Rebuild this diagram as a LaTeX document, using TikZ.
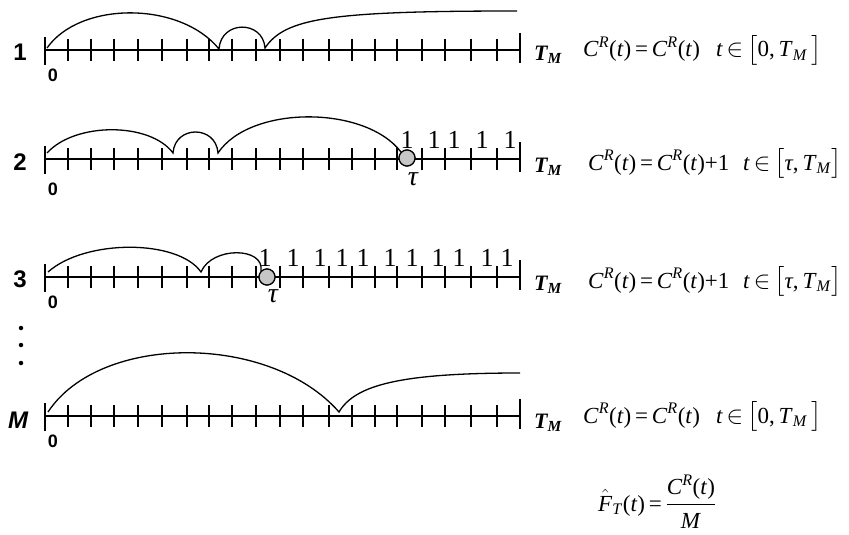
\documentclass[tikz,border=0pt]{standalone}
\usepackage{exscale}
\usepackage{fontspec}
\setmainfont{Liberation Serif}
\setsansfont{Liberation Sans}
\newcommand\CRt{\textit{C}\textsuperscript{\textit{R}}(\textit{t})}
\newcommand\TMsub{\textit{T}\textsubscript{\textit{M}}}
\newcommand\timeaxis[2]{%
  \coordinate (#1s) at (45,#2);
  \coordinate (#1e) at (520,#2);
  \draw[axisln] (#1s) -- (#1e);
  \draw[tickln] (45,{#2-13}) -- (45,{#2+15});
  \draw[tickln] (520,{#2-17}) -- (520,{#2+13});
  \foreach \tx in {68,91,114,138,162,187,209,232,256,280,303,329,352,375,397,422,445,471,497}
    {\draw[tickln] (\tx,{#2-11}) -- (\tx,{#2+11});}
}
\begin{document}
\begin{tikzpicture}[x=1pt,y=-1pt,
  axisln/.style={line width=1.7pt},
  tickln/.style={line width=1.6pt},
  curveln/.style={line width=1.3pt},
  rowlab/.style={font=\fontsize{24}{26}\selectfont\sffamily\bfseries, inner sep=0pt},
  zerolab/.style={font=\fontsize{18}{20}\selectfont\sffamily\bfseries, inner sep=0pt},
  tmlab/.style={font=\fontsize{22}{24}\selectfont\bfseries\itshape, anchor=base west, inner sep=0pt},
  formula/.style={font=\fontsize{23}{26}\selectfont, anchor=base west, inner sep=0pt},
  onelab/.style={font=\fontsize{26}{28}\selectfont, anchor=south, inner sep=0pt},
  taulab/.style={font=\fontsize{28}{30}\selectfont\itshape, inner sep=0pt},
  eventdot/.style={circle, draw, line width=1.2pt, fill=gray!45, minimum size=16pt, inner sep=0pt},
  vdot/.style={circle, fill=black, minimum size=4.5pt, inner sep=0pt}]
\useasboundingbox (0,0) rectangle (849,535);

% ---------- row 1 ----------
\timeaxis{a}{50}
\node[rowlab] (r1) at (20,52) {1};
\node[zerolab] (z1) at (53,75) {0};
\node[tmlab] (tm1) at (534,60) {\TMsub};
\node[formula] (f1) at (583,57) {\CRt\,=\,\CRt\hspace{0.7em}\textit{t}\,$\in$\,$\big[$0,\,\TMsub$\,\big]$};
\coordinate (a1) at (47,48);
\coordinate (a2) at (219,49);
\coordinate (a3) at (265,48);
\coordinate (a4) at (517,11);
\draw[curveln] (a1) .. controls (80,1) and (180,1) .. (a2)
  .. controls (221,20) and (263,20) .. (a3)
  .. controls (285,18) and (330,11) .. (a4);

% ---------- row 2 ----------
\timeaxis{b}{159}
\node[rowlab] (r2) at (20,162) {2};
\node[zerolab] (z2) at (53,189) {0};
\node[tmlab] (tm2) at (534,172) {\TMsub};
\node[formula] (f2) at (588,170) {\CRt\,=\,\CRt+1\hspace{0.6em}\textit{t}\,$\in$\,$\big[$\textit{τ},\,\TMsub$\big]$};
\coordinate (b1) at (47,153);
\coordinate (b2) at (173,153);
\coordinate (b3) at (218,153);
\node[eventdot] (tau2) at (407,158) {};
\draw[curveln] (b1) .. controls (75,122) and (150,122) .. (b2)
  .. controls (175,125) and (216,125) .. (b3)
  .. controls (250,105) and (365,105) .. (tau2.north west);
\node[eventdot] at (tau2) {};
\node[taulab] (t2) at (413,179) {τ};
\foreach \ox in {407,434,454,482,510}
  {\node[onelab] at (\ox,149) {1};}

% ---------- row 3 ----------
\timeaxis{c}{277}
\node[rowlab] (r3) at (20,279) {3};
\node[zerolab] (z3) at (53,302) {0};
\node[tmlab] (tm3) at (534,290) {\TMsub};
\node[formula] (f3) at (588,288) {\CRt\,=\,\CRt+1\hspace{0.6em}\textit{t}\,$\in$\,$\big[$\textit{τ},\,\TMsub$\big]$};
\coordinate (c1) at (48,272);
\coordinate (c2) at (201,272);
\node[eventdot] (tau3) at (267,277) {};
\draw[curveln] (c1) .. controls (85,239) and (178,239) .. (c2)
  .. controls (212,246) and (265,247) .. (tau3.north west);
\node[eventdot] at (tau3) {};
\node[taulab] (t3) at (273,296) {τ};
\foreach \ox in {265,293,320,342,363,390,412,438,459,487,507}
  {\node[onelab] at (\ox,267) {1};}

% ---------- vertical dots ----------
\node[vdot] (d1) at (21,328) {};
\node[vdot] (d2) at (21,345) {};
\node[vdot] (d3) at (21,363) {};

% ---------- row M ----------
\timeaxis{m}{416}
\node[rowlab, font=\fontsize{24}{26}\selectfont\sffamily\bfseries\itshape] (rM) at (18,420) {M};
\node[zerolab] (zM) at (53,441) {0};
\node[tmlab] (tmM) at (534,428) {\TMsub};
\node[formula] (fM) at (583,423) {\CRt\,=\,\CRt\hspace{0.7em}\textit{t}\,$\in$\,$\big[$0,\,\TMsub$\,\big]$};
\coordinate (m1) at (48,412);
\coordinate (m2) at (339,412);
\coordinate (m3) at (520,373);
\draw[curveln] (m1) .. controls (100,333) and (270,333) .. (m2)
  .. controls (355,385) and (400,373) .. (m3);

% ---------- estimator ----------
\node[formula] (fhat) at (598,511) {$\hat{\mbox{\textit{F}}}$\textsubscript{\textit{T}}(\textit{t})\,=\,$\displaystyle\frac{\mbox{\CRt}}{\mbox{\textit{M}}}$};
\end{tikzpicture}
\end{document}
